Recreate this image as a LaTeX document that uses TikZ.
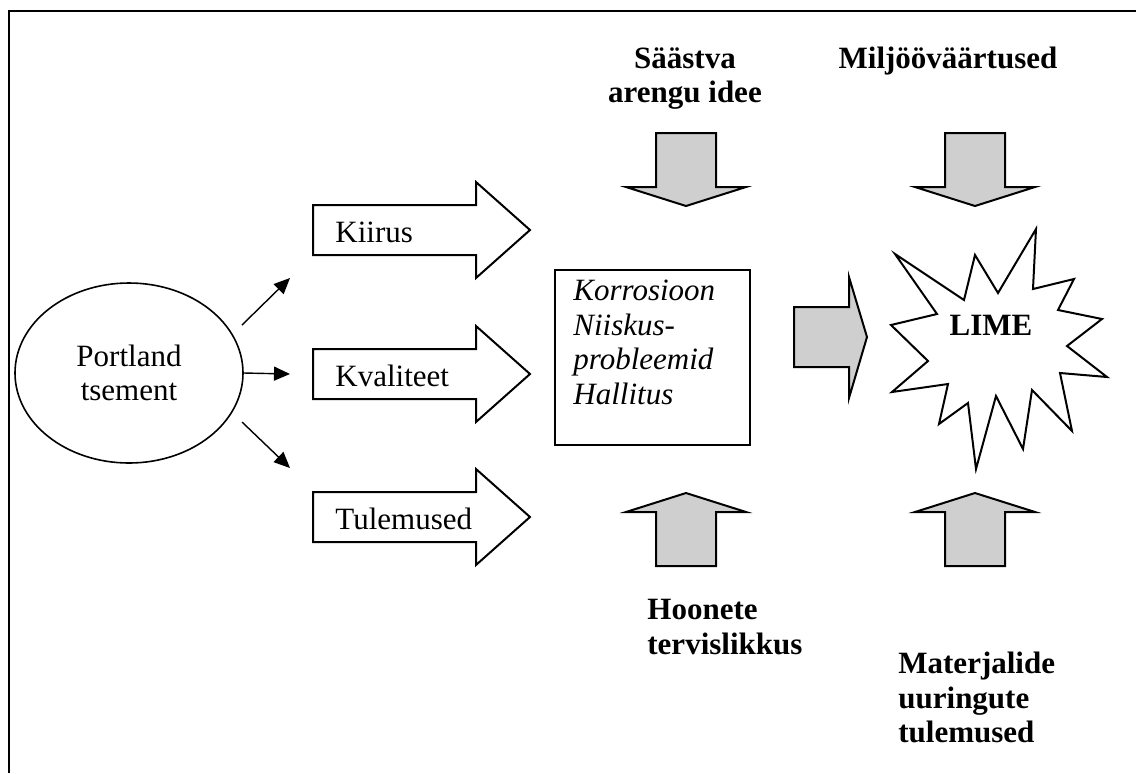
\documentclass[tikz,border=0pt]{standalone}
\usepackage{fontspec}
\setmainfont{Liberation Serif}
\usetikzlibrary{shapes.geometric,arrows.meta}
\begin{document}
\begin{tikzpicture}[x=0.5pt,y=-0.5pt,
	every node/.append style={font=\fontsize{15.5}{17.2}\selectfont},
	whitearrow/.style={draw,line width=1pt,fill=white},
	grayarrow/.style={draw,line width=1pt,fill=black!19},
	thinarrow/.style={line width=0.7pt,-{Triangle[length=8pt,width=7pt]}},
	lbltext/.style={inner sep=0,anchor=base west},
	headtxt/.style={inner sep=0,font=\fontsize{15.5}{17.2}\selectfont\bfseries}]

	\useasboundingbox (0,0) rectangle (1136,773);
	\draw [line width=1pt] (1136,11) -- (9,11) -- (9,773);

	% cement and its three arrows
	\node [draw,ellipse,line width=0.8pt,minimum width=114pt,minimum height=90pt,inner sep=0,align=center] (pc) at (129,373) {Portland\\tsement};
	\coordinate (s1) at (242,325);
	\coordinate (t1) at (290,278);
	\coordinate (t2) at (290,374);
	\coordinate (s3) at (242,422);
	\coordinate (t3) at (290,468);
	\draw [thinarrow] (s1) -- (t1);
	\draw [thinarrow] (pc.east) -- (t2);
	\draw [thinarrow] (s3) -- (t3);

	% white block arrows
	\foreach \yy/\txt/\nm in {230/Kiirus/ki,374/Kvaliteet/kv,517/Tulemused/tu} {
		\draw [whitearrow] (313,\yy-25) -- (476,\yy-25) -- (476,\yy-48) -- (530,\yy) -- (476,\yy+48) -- (476,\yy+25) -- (313,\yy+25) -- cycle;
		\node [lbltext] (\nm) at (335,\yy+12) {\txt};
	}

	% problems
	\node [draw,line width=1pt,minimum width=97.5pt,minimum height=87.5pt] (kr) at (652.5,357.5) {};
	\node [inner sep=0,anchor=north west,align=left,font=\fontsize{15.5}{17.2}\selectfont\itshape] (krtxt) at (573,280) {Korrosioon\\Niiskus-\\probleemid\\Hallitus};

	% gray arrows
	\foreach \cx in {686,975} {
		\draw [grayarrow] (\cx-30,133) -- (\cx+30,133) -- (\cx+30,187) -- (\cx+60,187) -- (\cx,206) -- (\cx-60,187) -- (\cx-30,187) -- cycle;
		\draw [grayarrow] (\cx-30,566) -- (\cx+30,566) -- (\cx+30,512) -- (\cx+60,512) -- (\cx,493) -- (\cx-60,512) -- (\cx-30,512) -- cycle;
	}
	\draw [grayarrow] (794,307) -- (849,307) -- (849,277) -- (867,337) -- (849,398) -- (849,367) -- (794,367) -- cycle;

	% star
	\draw [line width=1pt,fill=white] (895,254) -- (964,300) -- (975,255) -- (998,293) -- (1036,229) -- (1033,289)
		-- (1074,279) -- (1058,310) -- (1102,319) -- (1067,346) -- (1107,377) -- (1060,373)
		-- (1072,431) -- (1032,390) -- (1023,449) -- (996,396) -- (976,469) -- (968,403)
		-- (939,424) -- (948,384) -- (892,392) -- (928,361) -- (891,325) -- (937,314) -- cycle;
	\node [headtxt,anchor=base] (lime) at (991,335) {LIME};

	% headings
	\node [headtxt,anchor=north,align=center] (saastva) at (685,47) {Säästva\\arengu idee};
	\node [headtxt,anchor=north] (miljoo) at (948,47) {Miljööväärtused};
	\node [headtxt,anchor=north west,align=left] (hoonete) at (647,599) {Hoonete\\tervislikkus};
	\node [headtxt,anchor=north west,align=left] (materj) at (898,652) {Materjalide\\uuringute\\tulemused};
\end{tikzpicture}
\end{document}
